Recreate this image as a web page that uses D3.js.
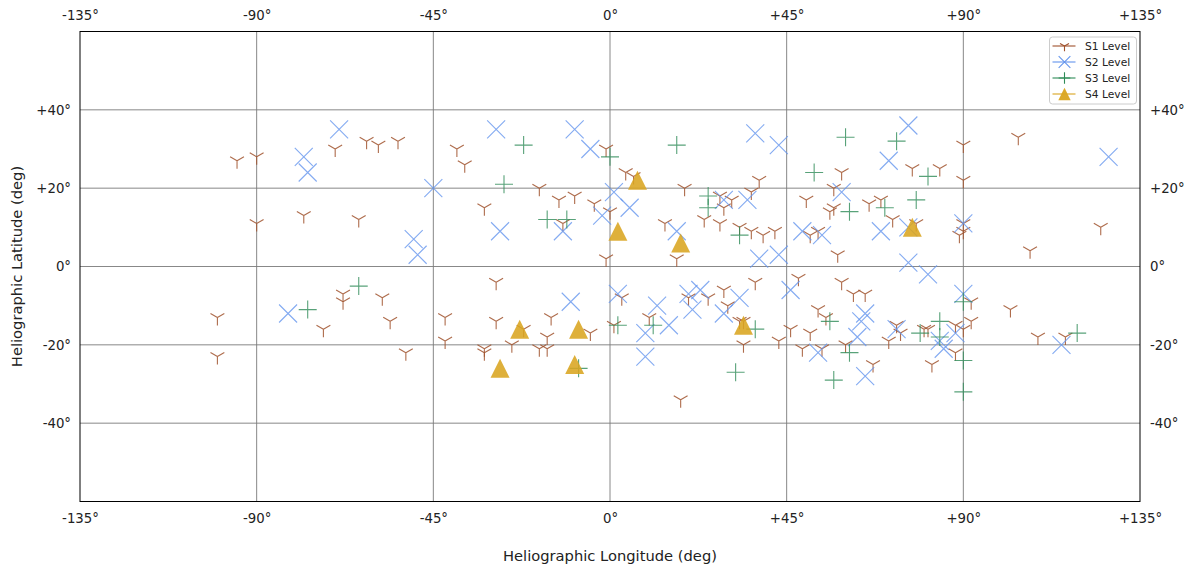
<!DOCTYPE html>
<html>
<head>
<meta charset="utf-8">
<script src="https://cdn.jsdelivr.net/npm/d3@7"></script>
<style>
  html, body { margin: 0; padding: 0; background: #fff; }
  svg { display: block; font-family: "DejaVu Sans", sans-serif; }
</style>
</head>
<body>
<svg id="chart" width="1190" height="569"></svg>
<script>
// Sunspot group positions [longitude, latitude] in degrees, by level
const s1Points = [
  [-100, -13], [-100, -23], [-95, 27], [-90, 28], [-90, 11], [-78, 13], [-70, 30],
  [-62, 32], [-59, 31], [-54, 32], [-39, 30], [-37, 26], [-32, 15], [-64, 12],
  [-18, 20], [-13, 17], [-9, 18], [-4, 16], [-12, 11], [-1, 30], [-1, 2],
  [4, 24], [6, 23], [19, 20], [28, 18], [31, 17], [29, 15], [36, 19], [38, 22],
  [59, 24], [57, 20], [50, 17], [56, 14], [57, 15], [66, 16], [69, 17], [77, 25],
  [84, 25], [90, 31], [90, 22], [104, 33], [72, 12], [78, 11], [90, 11], [90, 9],
  [89, 8], [107, 4], [125, 10], [0, 14], [14, 11], [17, 2], [24, 12], [28, 11],
  [33, 10], [36, 9], [39, 8], [42, 9], [51, 8], [53, 9], [58, 3],
  [-73, -16], [-68, -7], [-68, -9], [-58, -8], [-56, -14], [-52, -22], [-29, -4],
  [3, -8], [-42, -13], [-29, -14], [-22, -16], [-15, -13], [-5, -17], [-42, -19],
  [-32, -21], [-32, -22], [-25, -20], [-16, -18], [-18, -21], [-16, -21], [1, -15],
  [10, -13], [20, -8], [25, -8], [29, -6], [37, -4], [30, -10], [33, -14], [34, -14],
  [34, -20], [18, -34], [48, -3], [59, -4], [62, -7], [65, -7], [53, -11], [55, -13],
  [46, -16], [51, -17], [43, -19], [49, -21], [54, -21], [60, -20], [71, -19],
  [67, -25], [73, -15], [74, -17], [80, -16], [81, -16], [88, -15], [90, -16],
  [92, -14], [92, -9], [88, -22], [82, -25], [102, -11], [109, -18], [116, -18]
];
const s2Points = [
  [-69, 35], [-78, 28], [-77, 24], [-29, 35], [-9, 35], [-5, 30], [-45, 20],
  [-50, 7], [-49, 3], [-28, 9], [-12, 9], [-2, 13], [37, 34], [43, 31], [29, 17],
  [35, 17], [59, 19], [1, 19], [5, 15], [17, 9], [38, 2], [43, 3], [49, 9], [54, 8],
  [76, 36], [71, 27], [127, 28], [69, 9], [76, 10], [90, 11], [76, 1], [81, -2],
  [-82, -12], [-10, -9], [2, -7], [12, -10], [9, -17], [9, -23], [15, -15],
  [20, -7], [23, -6], [21, -11], [33, -8], [29, -12], [46, -6], [65, -12],
  [64, -14], [63, -18], [53, -22], [65, -28], [73, -16], [90, -7], [88, -17],
  [84, -19], [85, -21], [115, -20]
];
const s3Points = [
  [-22, 31], [0, 28], [17, 31], [60, 33], [73, 32], [-27, 21], [-16, 12], [-11, 12],
  [25, 18], [25, 15], [52, 24], [61, 14], [81, 23], [78, 17], [70, 15], [33, 8],
  [-77, -11], [-64, -5], [-8, -26], [2, -15], [11, -15], [37, -16], [32, -27],
  [56, -14], [61, -22], [57, -29], [84, -14], [84, -18], [79, -17], [90, -9],
  [90, -24], [90, -32], [119, -17]
];
const s4Points = [
  [7, 22], [2, 9], [18, 6], [-23, -16], [-8, -16], [-28, -26], [-9, -25], [34, -15], [77, 10]
];

const seriesNames = ["S1 Level", "S2 Level", "S3 Level", "S4 Level"];
const lonTicks = [-135, -90, -45, 0, 45, 90, 135];
const latTicks = [-40, -20, 0, 20, 40];
const lonGrid = [-90, -45, 0, 45, 90];

const svg = d3.select("#chart");
const plot = { left: 80, right: 1140, top: 31.5, bottom: 501.5 };

const x = d3.scaleLinear().domain([-135, 135]).range([plot.left, plot.right]);
const y = d3.scaleLinear().domain([-60, 60]).range([plot.bottom, plot.top]);

const signed = v => (v > 0 ? "+" : "") + v + "\u00B0";

// grid
const grid = svg.append("g").attr("stroke", "#7a7a7a").attr("stroke-width", 0.9);
grid.selectAll("line.v").data(lonGrid).join("line")
  .attr("x1", d => x(d)).attr("x2", d => x(d))
  .attr("y1", plot.top).attr("y2", plot.bottom);
grid.selectAll("line.h").data(latTicks).join("line")
  .attr("x1", plot.left).attr("x2", plot.right)
  .attr("y1", d => y(d)).attr("y2", d => y(d));

// marker path generators
function markerPath(kind, s) {
  if (kind === "tri") {
    const a = 0.866 * s, b = 0.5 * s;
    return `M0,0L0,${s}M0,0L${-a},${-b}M0,0L${a},${-b}`;
  }
  if (kind === "x") return `M${-s},${-s}L${s},${s}M${-s},${s}L${s},${-s}`;
  if (kind === "plus") return `M${-s},0L${s},0M0,${-s}L0,${s}`;
  return `M0,${-s}L${-s},${s}L${s},${s}Z`;
}

const series = [
  { name: seriesNames[0], pts: s1Points, kind: "tri", size: 8, color: "#A0522D", op: 0.85 },
  { name: seriesNames[1], pts: s2Points, kind: "x", size: 9, color: "#6495ED", op: 0.8 },
  { name: seriesNames[2], pts: s3Points, kind: "plus", size: 9, color: "#2E8B57", op: 0.8 },
  { name: seriesNames[3], pts: s4Points, kind: "tri_up", size: 9.5, color: "#DAA520", op: 0.88 }
];

const marks = svg.append("g");
series.forEach(s => {
  const filled = s.kind === "tri_up";
  marks.append("g")
    .selectAll("path").data(s.pts).join("path")
    .attr("transform", d => `translate(${x(d[0])},${y(d[1])})`)
    .attr("d", markerPath(s.kind, s.size))
    .attr("fill", filled ? s.color : "none")
    .attr("stroke", filled ? "none" : s.color)
    .attr("stroke-width", 1.1)
    .attr("opacity", s.op);
});

// frame
svg.append("rect")
  .attr("x", plot.left).attr("y", plot.top)
  .attr("width", plot.right - plot.left).attr("height", plot.bottom - plot.top)
  .attr("fill", "none").attr("stroke", "#000").attr("stroke-width", 1);

// axes
function styleAxis(g) {
  g.select(".domain").remove();
  g.selectAll(".tick line").remove();
  g.selectAll("text").attr("font-size", 13.3).attr("fill", "#222")
    .attr("font-family", "DejaVu Sans, sans-serif");
}
const lonFmt = d => (d > 0 ? "+" : "") + d + "\u00B0";
svg.append("g").attr("transform", `translate(0,${plot.top})`)
  .call(d3.axisTop(x).tickValues(lonTicks).tickFormat(lonFmt).tickSize(0).tickPadding(12))
  .call(styleAxis);
svg.append("g").attr("transform", `translate(0,${plot.bottom})`)
  .call(d3.axisBottom(x).tickValues(lonTicks).tickFormat(lonFmt).tickSize(0).tickPadding(12))
  .call(styleAxis);
svg.append("g").attr("transform", `translate(${plot.left},0)`)
  .call(d3.axisLeft(y).tickValues(latTicks).tickFormat(signed).tickSize(0).tickPadding(9))
  .call(styleAxis);
svg.append("g").attr("transform", `translate(${plot.right},0)`)
  .call(d3.axisRight(y).tickValues(latTicks).tickFormat(signed).tickSize(0).tickPadding(10))
  .call(styleAxis);

// axis titles
svg.append("text")
  .attr("x", (plot.left + plot.right) / 2).attr("y", 561)
  .attr("text-anchor", "middle").attr("font-size", 14.7).attr("fill", "#222")
  .text("Heliographic Longitude (deg)");
svg.append("text")
  .attr("transform", `translate(22,${(plot.top + plot.bottom) / 2}) rotate(-90)`)
  .attr("text-anchor", "middle").attr("font-size", 14.7).attr("fill", "#222")
  .text("Heliographic Latitude (deg)");

// legend
const lg = svg.append("g").attr("transform", "translate(1049.5,37)");
lg.append("rect").attr("width", 87).attr("height", 67).attr("rx", 3)
  .attr("fill", "#fff").attr("fill-opacity", 0.8)
  .attr("stroke", "#ccc").attr("stroke-width", 1);
series.forEach((s, i) => {
  const row = lg.append("g").attr("transform", `translate(0,${9 + i * 16})`);
  row.append("line").attr("x1", 3).attr("x2", 26).attr("y1", 0).attr("y2", 0)
    .attr("stroke", s.color).attr("stroke-width", 2).attr("opacity", 0.55);
  const filled = s.kind === "tri_up";
  row.append("path")
    .attr("transform", "translate(15,0)")
    .attr("d", markerPath(s.kind, s.size * 0.65))
    .attr("fill", filled ? s.color : "none")
    .attr("stroke", filled ? "none" : s.color)
    .attr("stroke-width", 1.1)
    .attr("opacity", filled ? 0.95 : 1);
  row.append("text").attr("x", 35.5).attr("y", 4)
    .attr("font-size", 10.7).attr("fill", "#222").text(s.name);
});
</script>
</body>
</html>
